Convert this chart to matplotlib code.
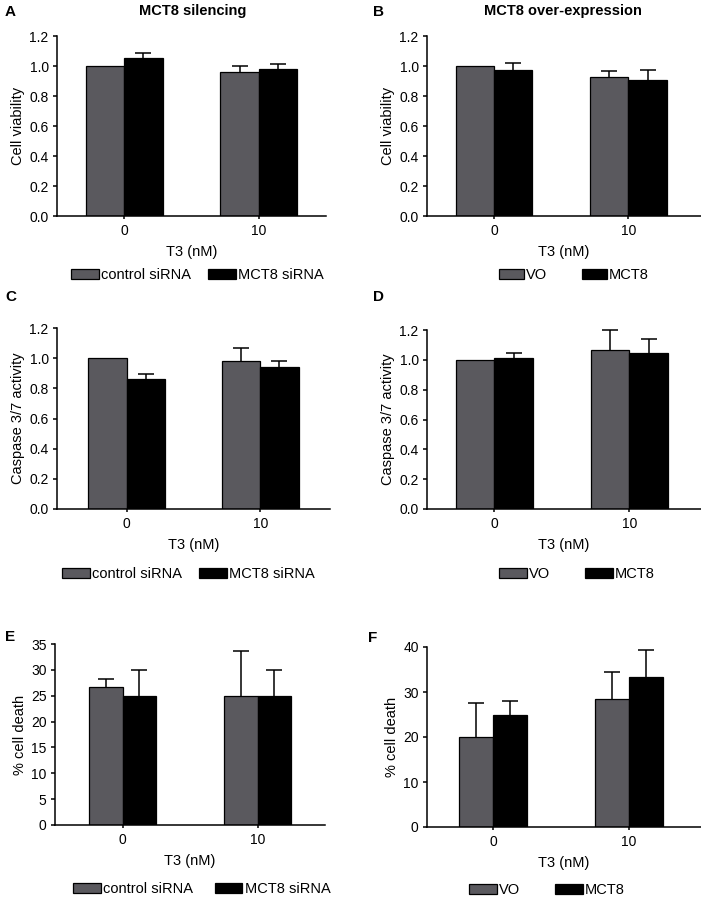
"""Six-panel bar figure: MCT8 silencing / over-expression vs T3."""

import matplotlib as mpl
import matplotlib.pyplot as plt
import numpy as np

W, H = 701, 899

doses = ["0", "10"]
sil_labels = ["control siRNA", "MCT8 siRNA"]
ovx_labels = ["VO", "MCT8"]

# A: cell viability, silencing
via_sil_ctrl = [1.00, 0.962]
via_sil_ctrl_err = [0.0, 0.038]
via_sil_mct8 = [1.053, 0.982]
via_sil_mct8_err = [0.033, 0.034]

# B: cell viability, over-expression
via_ovx_vo = [1.00, 0.929]
via_ovx_vo_err = [0.0, 0.036]
via_ovx_mct8 = [0.971, 0.904]
via_ovx_mct8_err = [0.051, 0.070]

# C: caspase 3/7, silencing
casp_sil_ctrl = [1.00, 0.981]
casp_sil_ctrl_err = [0.0, 0.086]
casp_sil_mct8 = [0.861, 0.941]
casp_sil_mct8_err = [0.031, 0.042]

# D: caspase 3/7, over-expression
casp_ovx_vo = [1.00, 1.066]
casp_ovx_vo_err = [0.0, 0.134]
casp_ovx_mct8 = [1.013, 1.048]
casp_ovx_mct8_err = [0.033, 0.095]

# E: % cell death, silencing
death_sil_ctrl = [26.7, 25.0]
death_sil_ctrl_err = [1.6, 8.7]
death_sil_mct8 = [25.0, 25.0]
death_sil_mct8_err = [5.0, 5.0]

# F: % cell death, over-expression
death_ovx_vo = [20.0, 28.4]
death_ovx_vo_err = [7.6, 6.0]
death_ovx_mct8 = [25.0, 33.3]
death_ovx_mct8_err = [2.9, 6.0]

GRAY = "#5a595e"
BLACK = "#000000"
FS = 10.5

mpl.rcParams.update({
    "font.family": ["Liberation Sans", "DejaVu Sans"],
    "font.size": FS,
    "axes.linewidth": 1.1,
    "xtick.major.width": 1.1,
    "ytick.major.width": 1.1,
    "xtick.major.size": 3,
    "ytick.major.size": 3,
    "xtick.labelsize": 10,
    "ytick.labelsize": 10,
})


def rect(l, r, t, b):
    return [l / W, 1 - b / H, (r - l) / W, (b - t) / H]


def panel(fig, box, xlim, vals, errs, labels, width, yticks, yfmt, ylabel,
          leg_x, leg_y, colspace, hlen=1.9):
    ax = fig.add_axes(rect(*box))
    x = np.arange(len(doses))
    handles = []
    for i, (v, e, c) in enumerate(zip(vals, errs, [GRAY, BLACK])):
        pos = x + (i - 0.5) * width
        bars = ax.bar(pos, v, width, color=c, edgecolor="black", linewidth=0.9,
                      zorder=2)
        handles.append(bars)
        v = np.asarray(v)
        e = np.asarray(e)
        keep = e > 0
        if keep.any():
            _, caps, _ = ax.errorbar(pos[keep], v[keep],
                                     yerr=[np.zeros(keep.sum()), e[keep]],
                                     fmt="none", ecolor="black", elinewidth=1.1,
                                     capsize=6, capthick=1.1, zorder=3,
                                     clip_on=False)
            caps[0].set_visible(False)
    ax.set_xlim(*xlim)
    ax.set_ylim(yticks[0], yticks[-1])
    ax.set_yticks(yticks)
    ax.set_yticklabels([yfmt.format(t) for t in yticks])
    ax.set_xticks(x)
    ax.set_xticklabels(doses)
    ax.tick_params(axis="x", length=2.5, pad=3)
    ax.tick_params(axis="y", pad=3)
    for s in ("top", "right"):
        ax.spines[s].set_visible(False)
    ax.set_xlabel("T3 (nM)", labelpad=5)
    ax.set_ylabel(ylabel, labelpad=3)
    fig.legend(handles, labels, loc="center left",
               bbox_to_anchor=(leg_x / W, 1 - leg_y / H),
               ncol=2, frameon=False, borderpad=0, borderaxespad=0,
               handlelength=hlen, handleheight=0.75, handletextpad=0.15,
               columnspacing=colspace, fontsize=FS)
    return ax


fig = plt.figure(figsize=(W / 100, H / 100), dpi=100)

vt = np.round(np.arange(0, 1.21, 0.2), 1)

panel(fig, (57, 326, 36, 216), (-0.5, 1.5),
      [via_sil_ctrl, via_sil_mct8], [via_sil_ctrl_err, via_sil_mct8_err],
      sil_labels, 0.285, vt, "{:.1f}", "Cell viability", 71, 275, 1.2)
panel(fig, (427, 701, 36, 216), (-0.5, 1.54),
      [via_ovx_vo, via_ovx_mct8], [via_ovx_vo_err, via_ovx_mct8_err],
      ovx_labels, 0.285, vt, "{:.1f}", "Cell viability", 499, 275, 2.4, 1.7)
panel(fig, (57, 330, 328, 509), (-0.52, 1.52),
      [casp_sil_ctrl, casp_sil_mct8], [casp_sil_ctrl_err, casp_sil_mct8_err],
      sil_labels, 0.285, vt, "{:.1f}", "Caspase 3/7 activity", 62, 574, 1.2)
panel(fig, (427, 701, 330, 509), (-0.5, 1.53),
      [casp_ovx_vo, casp_ovx_mct8], [casp_ovx_vo_err, casp_ovx_mct8_err],
      ovx_labels, 0.285, vt, "{:.1f}", "Caspase 3/7 activity", 499, 574, 2.4)
panel(fig, (55, 325, 644, 825), (-0.5, 1.5),
      [death_sil_ctrl, death_sil_mct8], [death_sil_ctrl_err, death_sil_mct8_err],
      sil_labels, 0.25, np.arange(0, 36, 5), "{:d}", "% cell death", 73, 889, 1.5)
panel(fig, (427, 701, 647, 827), (-0.485, 1.53),
      [death_ovx_vo, death_ovx_mct8], [death_ovx_vo_err, death_ovx_mct8_err],
      ovx_labels, 0.25, np.arange(0, 41, 10), "{:d}", "% cell death", 469, 890, 2.4)

# titles and panel letters
fig.text(193 / W, 1 - 11 / H, "MCT8 silencing", ha="center", va="center",
         fontweight="bold", fontsize=FS)
fig.text(563 / W, 1 - 11 / H, "MCT8 over-expression", ha="center", va="center",
         fontweight="bold", fontsize=FS)
for letter, px, py in [("A", 5, 12), ("B", 373, 12), ("C", 5, 297),
                       ("D", 373, 297), ("E", 5, 637), ("F", 368, 638)]:
    fig.text(px / W, 1 - py / H, letter, ha="left", va="center",
             fontweight="bold", fontsize=11)

fig.savefig("out.png", dpi=100)
